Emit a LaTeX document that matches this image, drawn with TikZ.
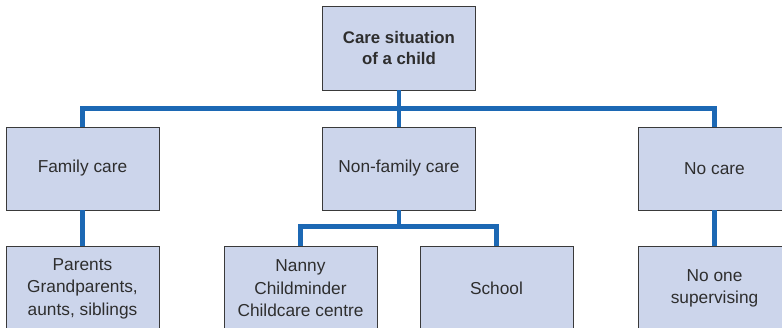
\documentclass[tikz,border=0pt]{standalone}
\usepackage{fontspec}
\setmainfont{Liberation Sans}
\usetikzlibrary{calc}
\definecolor{boxfill}{HTML}{CCD5EB}
\definecolor{boxline}{HTML}{3A3A3A}
\definecolor{txt}{HTML}{2E2E2E}
\definecolor{bus}{HTML}{1C68B4}
\tikzset{
  cbox/.style={draw=boxline, line width=0.9pt, fill=boxfill, minimum width=153pt,
    minimum height=83pt, inner sep=2pt, align=center, text=txt,
    font=\fontsize{17.3}{22.5}\selectfont},
  lowbox/.style={cbox, minimum height=85pt},
  conn/.style={draw=bus, line width=4.5pt}
}
\begin{document}
\begin{tikzpicture}[x=1pt,y=-1pt]
\useasboundingbox (0,0) rectangle (782,328);
\clip (0,0) rectangle (782,328);
\node[cbox, minimum height=84pt, font=\bfseries\fontsize{16.8}{20.5}\selectfont] (top) at (399,48) {Care situation\\of a child};
\node[cbox] (fam) at (82.5,168.5) {Family care};
\node[cbox] (nonfam) at (399,168.5) {Non-family care};
\node[cbox] (nocare) at (714.5,168.5) {No care};
\node[lowbox] (parents) at (82.5,288.5) {Parents\\Grandparents,\\aunts, siblings};
\node[lowbox] (nanny) at (300.5,288.5) {Nanny\\Childminder\\Childcare centre};
\node[lowbox] (school) at (496.5,288.5) {School};
\node[lowbox] (noone) at (714.5,288.5) {No one\\supervising};
\coordinate (busA) at ($(top.south)!0.5!(nonfam.north)$);
\coordinate (busB) at (399,226.5);
\begin{scope}[on background layer/.try]
\path[conn] (fam.north) |- (busA) -| (nocare.north);
\path[conn] (top.south) -- (nonfam.north);
\path[conn] (fam.south) -- (parents.north);
\path[conn] (nocare.south) -- (noone.north);
\path[conn] (nonfam.south) -- (busB);
\path[conn] (nanny.north) |- (busB) -| (school.north);
\end{scope}
\end{tikzpicture}
\end{document}
